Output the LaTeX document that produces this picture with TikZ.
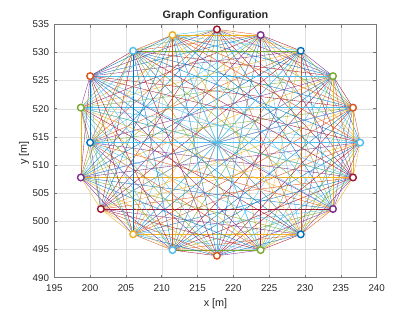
\documentclass[tikz,border=0pt]{standalone}
\usepackage{fontspec}
\setmainfont{Liberation Sans}
\definecolor{mc0}{RGB}{0,114,189}
\definecolor{mc1}{RGB}{217,83,25}
\definecolor{mc2}{RGB}{237,177,32}
\definecolor{mc3}{RGB}{126,47,142}
\definecolor{mc4}{RGB}{119,172,48}
\definecolor{mc5}{RGB}{77,190,238}
\definecolor{mc6}{RGB}{162,20,47}
\definecolor{gridc}{RGB}{225,225,225}
\definecolor{axc}{RGB}{120,120,120}
\definecolor{txc}{RGB}{38,38,38}
\tikzset{
  edge/.style={line width=0.35bp},
  vtx/.style={circle, draw, line width=1.4bp, minimum size=6.6bp, inner sep=0pt, fill=white},
  gridline/.style={draw=gridc, line width=0.5bp},
  axisline/.style={draw=axc, line width=0.6bp},
  ticklab/.style={text=txc, inner sep=0pt, font=\fontsize{9.8bp}{11bp}\selectfont},
}
\begin{document}
\begin{tikzpicture}[x=1bp,y=1bp]
\useasboundingbox (0,0) rectangle (415,312);
\fill[white] (0,0) rectangle (415,312);
\begin{scope}[x=7.164bp,y=5.631bp,shift={(-1342.68bp,-2724.89bp)}]
  % grid
  \foreach \gx in {200,205,...,235} \draw[gridline] (\gx,490) -- (\gx,535);
  \foreach \gy in {495,500,...,530} \draw[gridline] (195,\gy) -- (240,\gy);
  % node positions
  \coordinate (n1) at (217.7,534.1);
  \coordinate (n2) at (223.8,533.1);
  \coordinate (n3) at (229.4,530.3);
  \coordinate (n4) at (233.9,525.8);
  \coordinate (n5) at (236.7,520.2);
  \coordinate (n6) at (237.7,514.0);
  \coordinate (n7) at (236.7,507.8);
  \coordinate (n8) at (233.9,502.2);
  \coordinate (n9) at (229.4,497.7);
  \coordinate (n10) at (223.8,494.9);
  \coordinate (n11) at (217.7,493.9);
  \coordinate (n12) at (211.5,494.9);
  \coordinate (n13) at (206.0,497.7);
  \coordinate (n14) at (201.5,502.2);
  \coordinate (n15) at (198.7,507.8);
  \coordinate (n16) at (200.0,514.0);
  \coordinate (n17) at (198.7,520.2);
  \coordinate (n18) at (200.0,525.8);
  \coordinate (n19) at (206.0,530.3);
  \coordinate (n20) at (211.5,533.1);
  \coordinate (c) at (217.7,514.0);
  % edges
  \foreach \i in {1,...,19}{
    \pgfmathtruncatemacro\js{\i+1}
    \foreach \j in {\js,...,20}{
      \pgfmathtruncatemacro\k{mod((\i-1)*20-\i*(\i-1)/2+\j-\i,7)}
      \draw[edge, draw=mc\k] (n\i) -- (n\j);
    }
  }
  \foreach \i in {1,...,20} \draw[edge, draw=mc5] (c) -- (n\i);
  % markers
  \foreach \i/\cc in {1/6,2/3,3/0,4/4,5/1,6/5,7/6,8/3,9/0,10/4,11/1,12/5,13/2,14/6,15/3,16/0,17/4,18/1,19/5,20/2}
    \node[vtx, draw=mc\cc] (m\i) at (n\i) {};
  % axes box
  \draw[axisline] (195,490) rectangle (240,535);
  \foreach \gx in {195,200,...,240}{
    \draw[axisline] (\gx,490) -- ++(0,3.2bp);
    \draw[axisline] (\gx,535) -- ++(0,-3.2bp);
    \node[ticklab, anchor=base] (xl\gx) at ([yshift=-14bp]\gx,490) {\gx};
  }
  \foreach \gy in {490,495,...,535}{
    \draw[axisline] (195,\gy) -- ++(3.2bp,0);
    \draw[axisline] (240,\gy) -- ++(-3.2bp,0);
    \node[ticklab, anchor=east] (yl\gy) at ([xshift=-5bp]195,\gy) {\gy};
  }
\end{scope}
\node[text=txc, font=\fontsize{10.8bp}{12bp}\selectfont\bfseries, anchor=base] (title) at (215.5,293.5) {Graph Configuration};
\node[text=txc, font=\fontsize{10.8bp}{12bp}\selectfont] (xlab) at (215.5,8) {x [m]};
\node[text=txc, font=\fontsize{10.8bp}{12bp}\selectfont, rotate=90] (ylab) at (24,159) {y [m]};
\end{tikzpicture}
\end{document}
